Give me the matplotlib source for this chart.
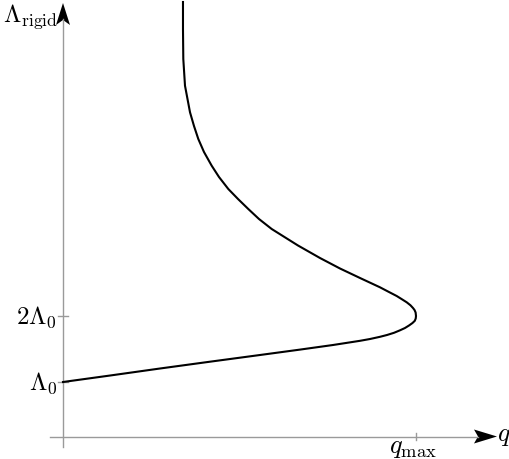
import matplotlib
matplotlib.use("Agg")
import matplotlib.pyplot as plt
from matplotlib.patches import Polygon

plt.rcParams['mathtext.fontset'] = 'cm'
plt.rcParams['font.family'] = 'serif'
plt.rcParams['font.serif'] = ['DejaVu Serif']

# Curve: q / q_max versus Lambda_rigid / Lambda_0
q_vals = [0.0, 0.1331, 0.2748, 0.4164, 0.5581, 0.6714, 0.7649, 0.8414, 0.8697,
          0.8980, 0.9178, 0.9377, 0.9547, 0.9688, 0.9802, 0.9901, 0.9966, 0.9992,
          1.0,
          0.9989, 0.9958, 0.9915, 0.9844, 0.9737, 0.9603, 0.9453, 0.9207, 0.8980,
          0.8414, 0.7847, 0.7280, 0.6657, 0.5912, 0.5552, 0.5249, 0.4958, 0.4683,
          0.4419, 0.4212, 0.3994, 0.3833, 0.3711, 0.3598, 0.3456, 0.3408, 0.3399,
          0.3399]
lam_vals = [1.0, 1.098, 1.2045, 1.3076, 1.4091, 1.4909, 1.5606, 1.6242, 1.6515,
            1.6848, 1.7121, 1.7455, 1.7833, 1.8182, 1.8561, 1.8939, 1.9273, 1.9621,
            2.0,
            2.0530, 2.0909, 2.1212, 2.1621, 2.2076, 2.2530, 2.3030, 2.3712, 2.4348,
            2.5758, 2.7197, 2.8788, 3.0682, 3.3182, 3.4697, 3.6212, 3.7727, 3.9242,
            4.1061, 4.2773, 4.4848, 4.6818, 4.8788, 5.0864, 5.4894, 5.8939, 6.3485,
            6.7576]

ytick_vals = [1.0, 2.0]
ytick_labels = [r'$\Lambda_0$', r'$2\Lambda_0$']
xtick_vals = [1.0]
xtick_labels = [r'$q_{\max}$']

W, H = 510, 460
fig = plt.figure(figsize=(W / 100, H / 100), dpi=100)
ax = fig.add_axes([0, 0, 1, 1])
# pixel mapping: x_px = 63 + 353 q ; y_px = 383 - 66 (L - 1)
sx, sy = 353.0, 66.0
x0px, y1px = 63.0, 383.0
ax.set_xlim(-x0px / sx, (W - x0px) / sx)
ax.set_ylim(1 + (y1px - H) / sy, 1 + y1px / sy)
ax.axis('off')

def qx(px):
    return (px - x0px) / sx

def ly(py):
    return 1 + (y1px - py) / sy

gray = '#9a9a9a'
# axes lines
yax = ly(437.5)
ax.plot([0, 0], [ly(448), ly(20)], color=gray, lw=1.0)
ax.plot([qx(50), qx(478)], [yax, yax], color=gray, lw=1.0)

# arrow heads
ax.add_patch(Polygon([[0, ly(4)], [qx(56), ly(26)], [0, ly(21)], [qx(70), ly(26)]],
                     closed=True, color='black', lw=0))
ax.add_patch(Polygon([[qx(497), yax], [qx(474), ly(430.5)], [qx(478), yax], [qx(474), ly(444.5)]],
                     closed=True, color='black', lw=0))

# ticks
for v, lab in zip(ytick_vals, ytick_labels):
    ax.plot([qx(58), qx(68)], [v, v], color=gray, lw=1.0)
    ax.text(qx(57), v, lab, ha='right', va='center', fontsize=18)
for v, lab in zip(xtick_vals, xtick_labels):
    ax.plot([v, v], [ly(434), ly(441)], color=gray, lw=1.0)
    ax.text(v - 0.008, ly(453), lab, ha='center', va='baseline', fontsize=19)

# axis labels
ax.text(qx(497), ly(436), r'$q$', ha='left', va='center', fontsize=19)
ax.text(qx(58), ly(17), r'$\Lambda_{\mathrm{rigid}}$', ha='right', va='center', fontsize=18)

# curve
ax.plot(q_vals, lam_vals, color='black', lw=1.5, solid_joinstyle='round')

fig.savefig('out.png', dpi=100)
